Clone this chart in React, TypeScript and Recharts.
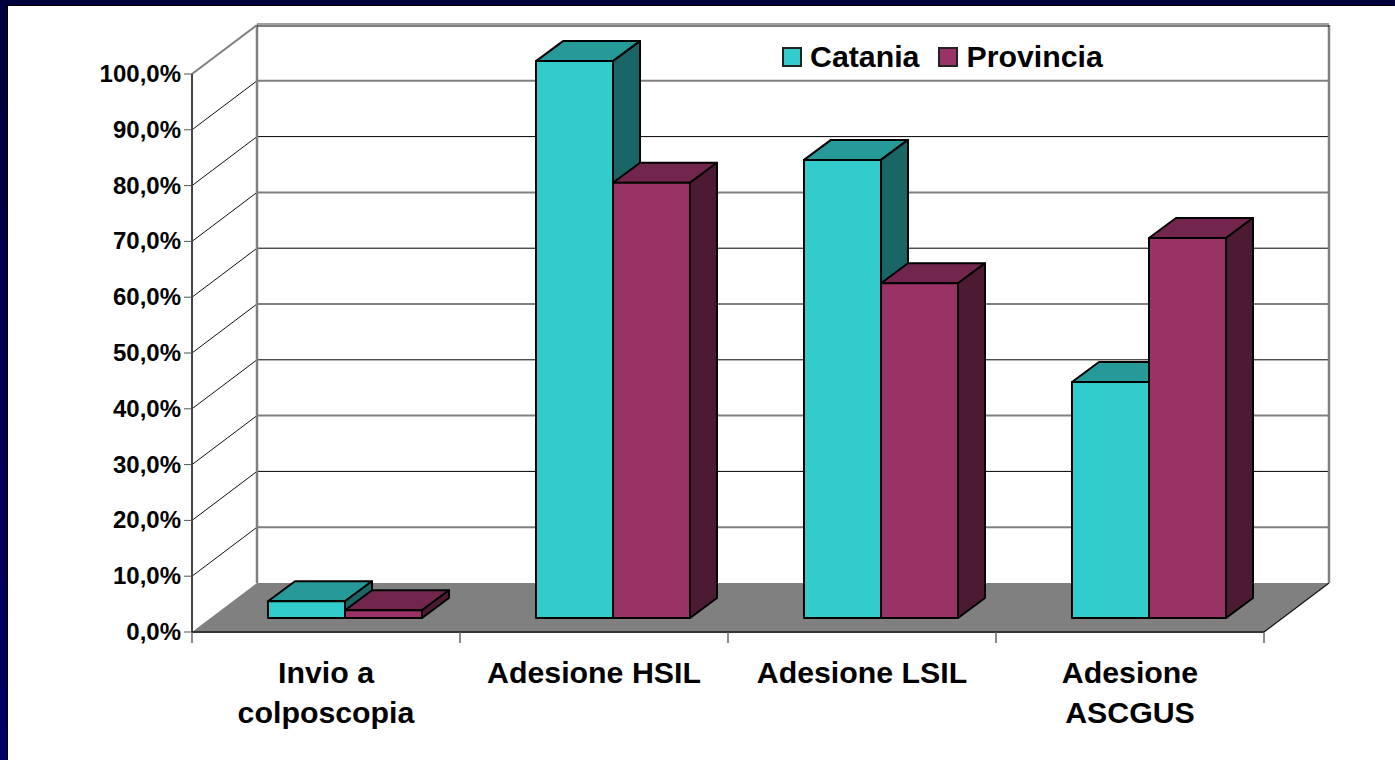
import React from 'react';
import { BarChart, Bar, XAxis, YAxis, Legend, CartesianGrid } from 'recharts';

const categories = ['Invio a colposcopia', 'Adesione HSIL', 'Adesione LSIL', 'Adesione ASCGUS'];
const categoryLines = [['Invio a', 'colposcopia'], ['Adesione HSIL'], ['Adesione LSIL'], ['Adesione', 'ASCGUS']];
const catania = [3, 99.8, 82.1, 42.3];
const provincia = [1.4, 78, 60, 68.1];
const yTicks = [0, 10, 20, 30, 40, 50, 60, 70, 80, 90, 100];

const data = categories.map((name, i) => ({ name, catania: catania[i], provincia: provincia[i] }));

const WIDTH = 1395;
const HEIGHT = 760;
const PLOT_WIDTH = 1072;
const PLOT_HEIGHT = 558;
const CAT_WIDTH = PLOT_WIDTH / categories.length;
// depth of the fake 3D box
const DEPTH_X = 65;
const DEPTH_Y = 49;
// bars stand part way into the floor
const BAR_SHIFT_X = 19;
const BAR_SHIFT_Y = 14;
const BAR_DEPTH_X = 27;
const BAR_DEPTH_Y = 20;

const FONT = '"Liberation Sans", Arial, sans-serif';

// one grid line = the wall line, its side-wall diagonal, plus floor/top extras
const WallLine = (props: any) => {
  const { x1: left, y1: y, index } = props;
  const backX = left + DEPTH_X;
  const backY = y - DEPTH_Y;
  const isFloor = Math.abs(y - 632) < 1;
  const isTop = Math.abs(y - 74) < 1;
  const thick = index % 2 === 1;
  return (
    <g>
      {isFloor && (
        <g>
          <polygon
            points={`${left},${y} ${backX},${backY} ${backX + PLOT_WIDTH},${backY} ${left + PLOT_WIDTH},${y}`}
            fill="#808080"
          />
          <line x1={left + PLOT_WIDTH} y1={y} x2={backX + PLOT_WIDTH} y2={backY} stroke="#111" strokeWidth={1.2} />
        </g>
      )}
      {isTop && (
        <g>
          <line x1={backX} y1={backY} x2={backX} y2={backY + PLOT_HEIGHT} stroke="#808080" strokeWidth={2.5} />
          <line x1={backX + PLOT_WIDTH} y1={backY} x2={backX + PLOT_WIDTH} y2={backY + PLOT_HEIGHT} stroke="#808080" strokeWidth={2.5} />
          <line x1={backX} y1={backY - 1} x2={backX + PLOT_WIDTH} y2={backY - 1} stroke="#a0a0a0" strokeWidth={2} />
          <line x1={backX} y1={backY + 1} x2={backX + PLOT_WIDTH} y2={backY + 1} stroke="#000" strokeWidth={1} />
        </g>
      )}
      {!isFloor && !isTop && (
        <line
          x1={backX}
          y1={backY}
          x2={backX + PLOT_WIDTH}
          y2={backY}
          stroke={thick ? '#808080' : '#000'}
          strokeWidth={thick ? 2 : 1}
        />
      )}
      {!isFloor && (
        <line x1={left} y1={y} x2={backX} y2={backY} stroke={isTop ? '#808080' : '#111'} strokeWidth={isTop ? 2 : 1} />
      )}
    </g>
  );
};

const YTick = (props: any) => {
  const { x, y, payload } = props;
  return (
    <text x={x - 3} y={y + 8} textAnchor="end" fontFamily={FONT} fontWeight="bold" fontSize={24} fill="#000">
      {payload.value.toFixed(1).replace('.', ',')}%
    </text>
  );
};

const XTick = (props: any) => {
  const { x, y, index } = props;
  const lines = categoryLines[index];
  const left = x - CAT_WIDTH / 2;
  return (
    <g>
      <line x1={left} y1={y} x2={left} y2={y + 11} stroke="#666" strokeWidth={1.5} />
      {index === categories.length - 1 && (
        <line x1={left + CAT_WIDTH} y1={y} x2={left + CAT_WIDTH} y2={y + 11} stroke="#666" strokeWidth={1.5} />
      )}
      {lines.map((l, i) => (
        <text key={l} x={x} y={y + 51 + i * 40} textAnchor="middle" fontFamily={FONT} fontWeight="bold" fontSize={30.3} fill="#000">
          {l}
        </text>
      ))}
    </g>
  );
};

const Bar3D = (props: any) => {
  const { x, y, width, height, front, top, side } = props;
  const l = x + BAR_SHIFT_X;
  const t = y - BAR_SHIFT_Y;
  const r = l + width;
  const b = t + height;
  return (
    <g stroke="#000" strokeWidth={2} strokeLinejoin="round">
      <polygon points={`${l},${t} ${l + BAR_DEPTH_X},${t - BAR_DEPTH_Y} ${r + BAR_DEPTH_X},${t - BAR_DEPTH_Y} ${r},${t}`} fill={top} />
      <polygon points={`${r},${t} ${r + BAR_DEPTH_X},${t - BAR_DEPTH_Y} ${r + BAR_DEPTH_X},${b - BAR_DEPTH_Y} ${r},${b}`} fill={side} />
      <rect x={l} y={t} width={width} height={height} fill={front} />
    </g>
  );
};

const LegendContent = (props: any) => (
  <div style={{ display: 'flex', alignItems: 'center', fontFamily: FONT, fontWeight: 'bold', fontSize: 30.3, color: '#000', lineHeight: '34px' }}>
    {props.payload.map((p: any) => (
      <div key={p.value} style={{ display: 'flex', alignItems: 'center', marginRight: 19 }}>
        <span style={{ width: 16, height: 16, background: p.color, border: '2px solid #222', marginRight: 8 }} />
        {p.value}
      </div>
    ))}
  </div>
);

export default function App() {
  return (
    <div style={{ position: 'absolute', left: 0, top: 0, width: WIDTH, height: HEIGHT, background: 'linear-gradient(#00003c, #000066)', overflow: 'hidden' }}>
      <div style={{ position: 'absolute', left: 8, top: 6, width: WIDTH - 8, height: HEIGHT - 6, background: '#fff', boxShadow: '-1px -1px 0 #000' }} />
      <div style={{ position: 'absolute', left: 0, top: 0 }}>
        <BarChart
          width={WIDTH}
          height={HEIGHT}
          data={data}
          barSize={77}
          barGap={0}
          margin={{ top: 74, right: 131, bottom: 28, left: 0 }}
        >
          <CartesianGrid vertical={false} horizontal={(p: any) => <WallLine key={p.index} {...p} />} horizontalValues={yTicks} />
          <YAxis
            width={192}
            domain={[0, 100]}
            ticks={yTicks}
            interval={0}
            axisLine={{ stroke: '#444', strokeWidth: 2 }}
            tickLine={{ stroke: '#555' }}
            tickSize={8}
            tickMargin={0}
            tick={<YTick />}
          />
          <XAxis
            dataKey="name"
            height={100}
            interval={0}
            tickLine={false}
            tick={<XTick />}
            tickSize={0}
            tickMargin={0}
            axisLine={{ stroke: '#333', strokeWidth: 2 }}
          />
          <Legend
            layout="horizontal"
            verticalAlign="middle"
            align="center"
            content={<LegendContent />}
            wrapperStyle={{ position: 'absolute', left: 782, top: 40, width: 360, bottom: 'auto' }}
          />
          <Bar dataKey="catania" name="Catania" fill="#33cccc" isAnimationActive={false} shape={<Bar3D front="#33cccc" top="#269999" side="#1a6666" />} />
          <Bar dataKey="provincia" name="Provincia" fill="#993366" isAnimationActive={false} shape={<Bar3D front="#993366" top="#73264d" side="#4d1a33" />} />
        </BarChart>
      </div>
    </div>
  );
}
